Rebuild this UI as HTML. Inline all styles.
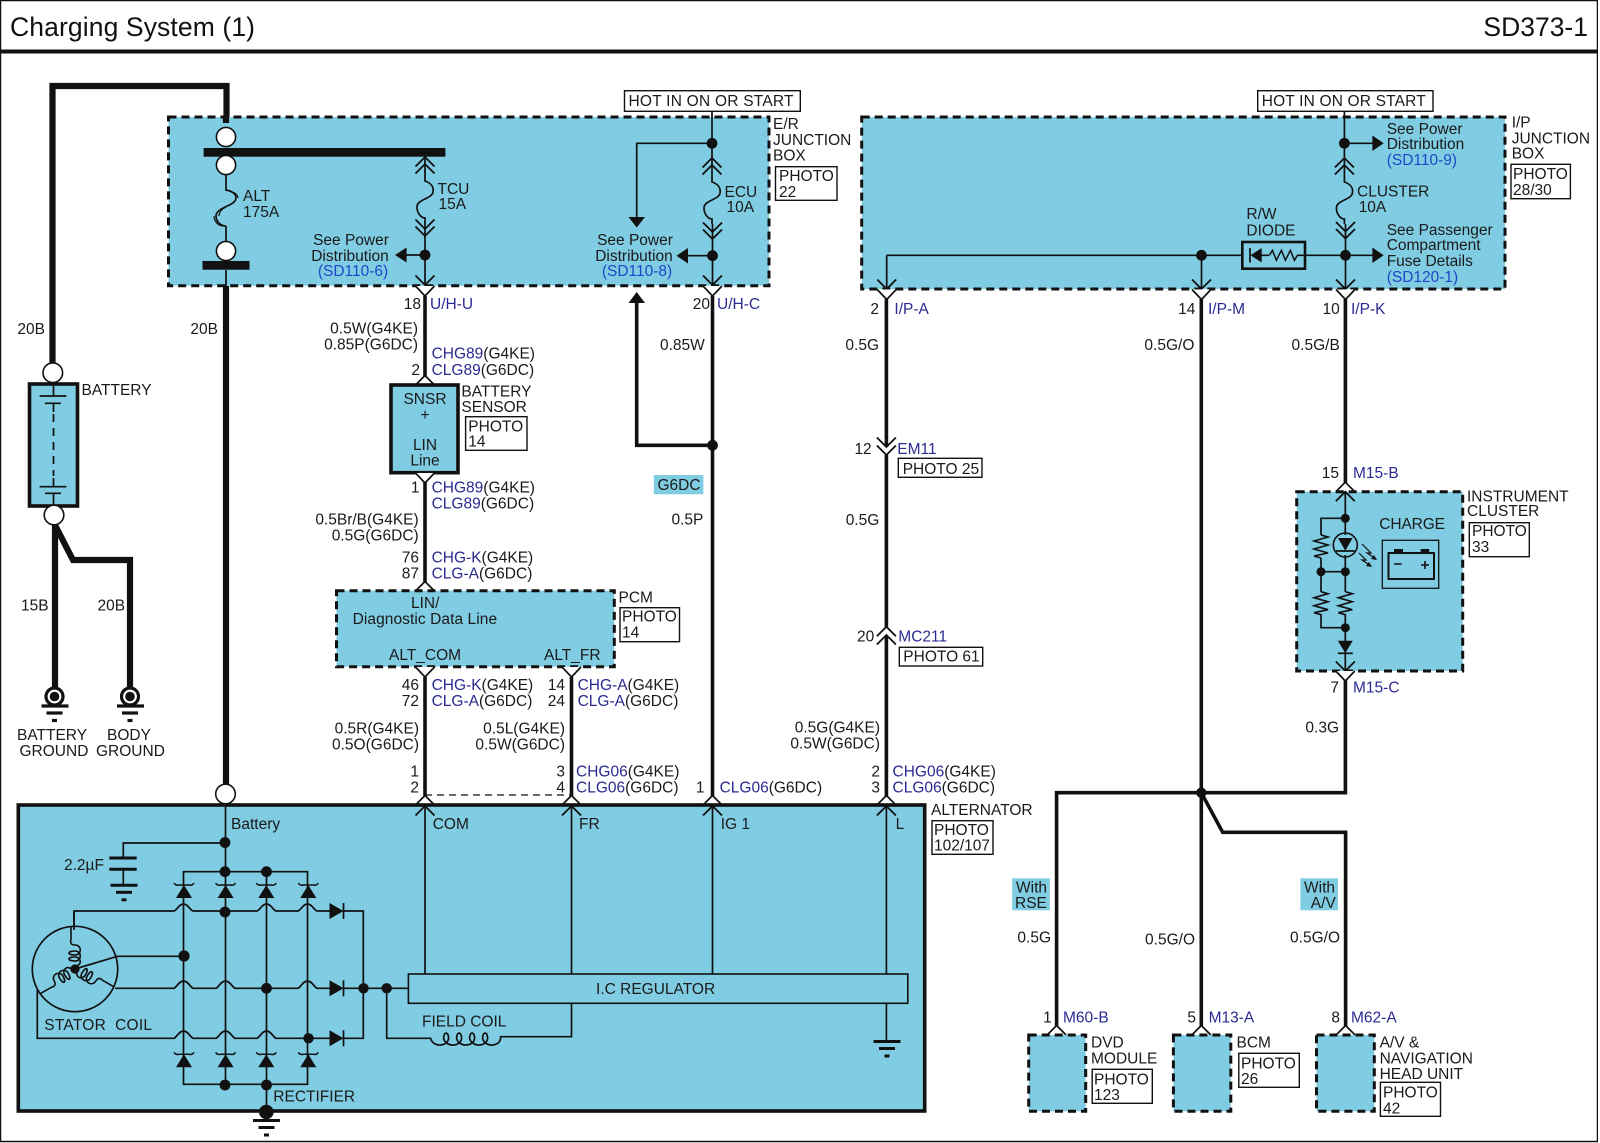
<!DOCTYPE html>
<html><head><meta charset="utf-8"><title>Charging System (1)</title>
<style>
html,body{margin:0;padding:0;background:#fff}
svg{display:block}
text{font-family:"Liberation Sans",sans-serif;font-size:15.5px;fill:#1a1a1a;white-space:pre}
.e{text-anchor:end}.m{text-anchor:middle}
.n{fill:#2a2a92}.u{fill:#1f48c8}
.title{font-size:26.5px;fill:#111}
.w{fill:none;stroke:#111;stroke-width:1.7}
.h{fill:none;stroke:#111;stroke-width:3.6}
.k{fill:none;stroke:#111;stroke-width:6.2}
.box{fill:#80cce2;stroke:#111;stroke-width:3;stroke-dasharray:8 5}
.solid{fill:#80cce2;stroke:#111;stroke-width:3.6}
.ph{fill:#fff;stroke:#111;stroke-width:1.4}
.d{fill:#111}
.c{fill:#fff;stroke:#111;stroke-width:1.6}
</style></head><body>
<svg xmlns="http://www.w3.org/2000/svg" width="1600" height="1143" viewBox="0 0 1600 1143">
<defs>
<path id="cd" d="M-9.5 -9.5L0 0L9.5 -9.5" fill="none" stroke="#111" stroke-width="1.8"/>
<path id="cu" d="M-9.5 9.5L0 0L9.5 9.5" fill="none" stroke="#111" stroke-width="1.8"/>
<path id="vd" d="M-9.5 0L0 10L9.5 0" fill="#fff" stroke="#111" stroke-width="1.7"/>
<path id="vu" d="M-9.5 0L0 -9.5L9.5 0" fill="#fff" stroke="#111" stroke-width="1.7"/>
<g id="dup"><use href="#cu"/><use href="#cu" y="7"/></g>
<g id="ddn"><use href="#cd"/><use href="#cd" y="-7"/></g>
<path id="fuse" d="M0 -1V9C6 11 9 15 8 20C7 27 -8 27 -8 35C-8 41 -4 46 0 46V51" fill="none" stroke="#111" stroke-width="1.7"/>
<g id="dr"><path d="M-7 -8L7 0L-7 8Z" fill="#111"/><path d="M7 -8V8" stroke="#111" stroke-width="1.7"/></g>
<g id="zu"><path d="M-8 13L0 0L8 13Z" fill="#111"/><path d="M-10 -2Q-8 1 -5 0H5Q8 1 10 -2" fill="none" stroke="#111" stroke-width="1.5"/></g>
<g id="gnd"><path d="M-13.5 0H13.5" stroke="#111" stroke-width="3"/><path d="M-8 7H8" stroke="#111" stroke-width="3"/><path d="M-2.5 14.5H2.5" stroke="#111" stroke-width="3"/></g>
<path id="res" d="M0 0L7 2L-7 6L7 10L-7 14L7 18L-7 21L0 23" fill="none" stroke="#111" stroke-width="1.6"/>
<path id="coil" d="M0 0V3c-7 0-7 9 0 9c8 0 8-4 0-4c-7 0-7 10 0 10c8 0 8-4 0-4c-7 0-7 10 0 10c4 0 5 2 4 6V42" fill="none" stroke="#111" stroke-width="1.6"/>
<g id="eg"><circle r="8.5" fill="#fff" stroke="#111" stroke-width="3.2"/><circle r="4.8" fill="#111"/><path d="M-13 9.5H14" stroke="#111" stroke-width="3.2"/><path d="M-8 16.5H8" stroke="#111" stroke-width="3.2"/><path d="M-2.5 24H2.5" stroke="#111" stroke-width="3.2"/></g>
</defs>

<!-- frame -->
<rect x="0.5" y="0.5" width="1597" height="1141" fill="#fff" stroke="#111" stroke-width="1.5"/>
<rect x="0" y="49.5" width="1600" height="4" fill="#111"/>
<rect x="1598" y="0" width="2" height="1143" fill="#fff"/>
<text class="title" x="10" y="36" textLength="245">Charging System (1)</text>
<text class="title e" x="1588" y="36">SD373-1</text>

<!-- battery thick wires -->
<path class="k" d="M226.5 118V86H52.5V363"/>
<rect x="29.5" y="384" width="48" height="122" class="solid"/>
<path class="w" d="M53.5 384V396M53.5 403V412M53.5 486V478M53.5 493V506"/>
<path class="w" d="M53.5 414V476" stroke-dasharray="8 6"/>
<path d="M39.6 396H66.4M45 403.3H61M39.6 486.7H66.4M45 493.3H61" stroke="#111" stroke-width="1.7"/>
<circle cx="52.8" cy="372.7" r="9.8" class="c"/>
<path class="k" d="M55 525V688"/>
<path class="k" d="M55 525L73 560H130V688"/>
<circle cx="54" cy="515" r="9.8" class="c"/>
<use href="#eg" x="54.5" y="696.5"/><use href="#eg" x="130" y="696.5"/>
<text class="e" x="45" y="334">20B</text><text class="e" x="218" y="334">20B</text>
<text x="81.5" y="395">BATTERY</text>
<text x="21" y="610.7">15B</text><text x="97.5" y="610.7">20B</text>
<text x="17" y="740">BATTERY</text><text x="19.5" y="756">GROUND</text>
<text x="107" y="740">BODY</text><text x="96" y="756">GROUND</text>

<!-- E/R junction box -->
<rect x="168.5" y="117" width="600.5" height="168.7" class="box"/>
<path class="k" d="M226 117V123M226 286V784"/>
<path class="w" d="M226 175V191M226 226V242M226 270V286"/>
<rect x="203.6" y="148" width="241.8" height="8.7" class="d"/>
<circle cx="226" cy="137" r="9.6" class="c"/><circle cx="226" cy="165" r="9.6" class="c"/><circle cx="226" cy="251" r="9.6" class="c"/>
<rect x="202.5" y="261" width="47" height="8.7" class="d"/>
<path class="w" d="M226 190C232 191 236 194 236 198C236 206 216 207 216 216C216 222 221 226 226 226"/>
<path d="M229 191C233 192 238 194 238 198M214 216C214 221 218 226 223 226M219 216C219 212 222 209 226 207" fill="none" stroke="#111" stroke-width="1.2"/>
<text x="243" y="201">ALT</text><text x="243" y="217">175A</text>

<path class="w" d="M425 157V172"/>
<use href="#dup" x="425" y="157"/>
<use href="#fuse" x="425" y="172"/>
<use href="#ddn" x="425" y="236"/>
<path class="w" d="M425 222V285M397 255H425"/>
<circle cx="425" cy="255" r="5.4" class="d"/>
<path class="d" d="M395 255L406.6 247.5V262.5Z"/>
<use href="#cd" x="425" y="285"/><use href="#vd" x="425" y="286"/>
<text x="437.5" y="194">TCU</text><text x="438.5" y="209">15A</text>
<text class="m" x="351" y="245">See Power</text><text class="m" x="350" y="261">Distribution</text><text class="m u" x="353" y="276">(SD110-6)</text>

<rect x="624.5" y="90.7" width="175.8" height="20.6" class="ph"/>
<text x="628.5" y="106" textLength="165">HOT IN ON OR START</text>
<path class="w" d="M712 111V173"/>
<circle cx="712" cy="143.3" r="5.4" class="d"/>
<path class="w" d="M712 143.3H636.7V220"/>
<path class="d" d="M636.7 227.5L628.5 217H645Z"/>
<use href="#dup" x="712" y="158"/>
<use href="#fuse" x="712" y="173"/>
<use href="#ddn" x="712.5" y="239"/>
<path class="w" d="M712.5 224V285M678 255.7H712.5"/>
<circle cx="712.5" cy="255.7" r="5.4" class="d"/>
<path class="d" d="M676.5 255.7L688 248V263.5Z"/>
<use href="#cd" x="712.5" y="285"/><use href="#vd" x="712.5" y="286"/>
<text x="724.5" y="197">ECU</text><text x="726.5" y="212">10A</text>
<text class="m" x="635" y="245">See Power</text><text class="m" x="634" y="261">Distribution</text><text class="m u" x="637" y="276">(SD110-8)</text>
<text x="773" y="129">E/R</text><text x="773" y="145">JUNCTION</text><text x="773" y="160.7">BOX</text>
<rect x="775.5" y="166.7" width="61.5" height="33.6" class="ph"/>
<text x="779" y="181">PHOTO</text><text x="779" y="197">22</text>

<!-- ECU wire and branch -->
<path class="h" d="M636.7 303V445.3H712.5"/>
<path class="d" d="M636.7 292L628.5 303H645Z"/>
<path class="h" d="M712.5 296V805"/>
<circle cx="712.5" cy="445.3" r="5.4" class="d"/>
<text class="e" x="710" y="309">20</text><text class="n" x="717" y="309">U/H-C</text>
<text x="660" y="350">0.85W</text>
<rect x="653.8" y="475" width="49.6" height="19.3" fill="#80cce2"/>
<text x="657.5" y="490">G6DC</text>
<text class="e" x="703.4" y="524.3">0.5P</text>

<!-- TCU wire -->
<path class="h" d="M425 296V377M425 481V582M425 677V805M571.5 677V805"/>
<text class="e" x="421" y="309">18</text><text class="n" x="430" y="309">U/H-U</text>
<text class="e" x="418" y="333.7">0.5W(G4KE)</text><text class="e" x="418" y="349.7">0.85P(G6DC)</text>
<text x="431.6" y="358.7"><tspan class="n">CHG89</tspan>(G4KE)</text>
<text x="431.6" y="375"><tspan class="n">CLG89</tspan>(G6DC)</text>
<text class="e" x="420" y="375">2</text>
<use href="#vu" x="425" y="385"/>
<rect x="391" y="385" width="67" height="87.7" class="solid" stroke-width="3"/>
<text class="m" x="425" y="404">SNSR</text><text class="m" x="425" y="420">+</text><text class="m" x="425" y="450">LIN</text><text class="m" x="425" y="465.7">Line</text>
<text x="461.4" y="396.7">BATTERY</text><text x="461.4" y="412">SENSOR</text>
<rect x="465.6" y="416.7" width="61.4" height="33.6" class="ph"/>
<text x="468.3" y="431.7">PHOTO</text><text x="468.3" y="446.7">14</text>
<use href="#vd" x="425" y="473"/>
<text class="e" x="419.5" y="492.7">1</text>
<text x="431.6" y="492.7"><tspan class="n">CHG89</tspan>(G4KE)</text>
<text x="431.6" y="508.7"><tspan class="n">CLG89</tspan>(G6DC)</text>
<text class="e" x="418.7" y="524.7">0.5Br/B(G4KE)</text><text class="e" x="418.7" y="540.7">0.5G(G6DC)</text>
<text class="e" x="419" y="562.7">76</text><text class="e" x="419" y="578.7">87</text>
<text x="431.6" y="562.7"><tspan class="n">CHG-K</tspan>(G4KE)</text>
<text x="431.6" y="578.7"><tspan class="n">CLG-A</tspan>(G6DC)</text>
<use href="#vu" x="425" y="591"/>

<!-- PCM -->
<rect x="336.5" y="590.7" width="277.8" height="76" class="box"/>
<text x="411" y="608">LIN/</text><text x="352.6" y="624" textLength="144.5">Diagnostic Data Line</text>
<text x="389" y="660">ALT_COM</text><text x="544" y="660">ALT_FR</text>
<text x="618.5" y="602.7">PCM</text>
<rect x="620" y="607.7" width="59.5" height="34" class="ph"/>
<text x="622" y="621.7">PHOTO</text><text x="622" y="637.7">14</text>
<use href="#vd" x="425" y="667"/><use href="#vd" x="571.5" y="667"/>
<text class="e" x="419" y="690">46</text><text class="e" x="419" y="706">72</text>
<text x="431.6" y="690"><tspan class="n">CHG-K</tspan>(G4KE)</text>
<text x="431.6" y="706"><tspan class="n">CLG-A</tspan>(G6DC)</text>
<text class="e" x="565" y="690">14</text><text class="e" x="565" y="706">24</text>
<text x="577.6" y="690"><tspan class="n">CHG-A</tspan>(G4KE)</text>
<text x="577.6" y="706"><tspan class="n">CLG-A</tspan>(G6DC)</text>
<text class="e" x="419" y="733.3">0.5R(G4KE)</text><text class="e" x="419" y="749.3">0.5O(G6DC)</text>
<text class="e" x="565" y="733.3">0.5L(G4KE)</text><text class="e" x="565" y="749.3">0.5W(G6DC)</text>
<text class="e" x="419" y="776.7">1</text><text class="e" x="419" y="792.7">2</text>
<text class="e" x="565" y="776.7">3</text><text class="e" x="565" y="792.7">4</text>
<text x="576" y="776.7"><tspan class="n">CHG06</tspan>(G4KE)</text>
<text x="576" y="792.7"><tspan class="n">CLG06</tspan>(G6DC)</text>
<text class="e" x="704.5" y="792.7">1</text>
<text x="719.6" y="792.7"><tspan class="n">CLG06</tspan>(G6DC)</text>
<path d="M425 795H571" fill="none" stroke="#111" stroke-width="1.3" stroke-dasharray="7 5"/>
<text class="e" x="880" y="776.7">2</text><text class="e" x="880" y="792.7">3</text>
<text x="892.5" y="776.7"><tspan class="n">CHG06</tspan>(G4KE)</text>
<text x="892.5" y="792.7"><tspan class="n">CLG06</tspan>(G6DC)</text>

<!-- EM / MC wire -->
<path class="h" d="M886.4 299V447M886.4 455V627M886.4 636V805"/>
<use href="#cd" x="886.4" y="447"/><use href="#cd" x="886.4" y="455"/>
<use href="#cu" x="886.4" y="626.7"/><use href="#cu" x="886.4" y="635"/>
<text class="e" x="879" y="350">0.5G</text>
<text class="e" x="871.7" y="454">12</text><text class="n" x="897.3" y="454">EM11</text>
<rect x="898.3" y="458.3" width="83.7" height="19" class="ph"/>
<text x="902.7" y="474">PHOTO 25</text>
<text class="e" x="879.3" y="525">0.5G</text>
<text class="e" x="874.3" y="641.7">20</text><text class="n" x="898.3" y="641.7">MC211</text>
<rect x="899.3" y="647.3" width="83.4" height="18.7" class="ph"/>
<text x="903.3" y="661.7">PHOTO 61</text>
<text class="e" x="880" y="732.5">0.5G(G4KE)</text><text class="e" x="880" y="748.5">0.5W(G6DC)</text>

<!-- I/P junction box -->
<rect x="861.7" y="117" width="643.3" height="172" class="box"/>
<rect x="1257.7" y="90.7" width="175.3" height="20.6" class="ph"/>
<text x="1261.7" y="106" textLength="164">HOT IN ON OR START</text>
<path class="w" d="M1344.4 111V173"/>
<circle cx="1344.4" cy="143.3" r="5.4" class="d"/>
<path class="w" d="M1344.4 143.3H1374"/>
<path class="d" d="M1383.7 143.3L1372.4 135.5V151Z"/>
<use href="#dup" x="1344.4" y="158"/>
<use href="#fuse" x="1344.4" y="173"/>
<use href="#ddn" x="1345.5" y="238.5"/>
<path class="w" d="M886.7 255.3H1242M1305 255.3H1374M886.7 255.3V289M1201.5 255.3V289M1345.5 224V289"/>
<circle cx="1201.5" cy="255.3" r="5.4" class="d"/><circle cx="1345.5" cy="255.3" r="5.4" class="d"/>
<path class="d" d="M1383.7 255.3L1372.4 247.5V263Z"/>
<rect x="1242.3" y="242" width="62.7" height="26.7" fill="none" stroke="#111" stroke-width="2.6"/>
<path class="d" d="M1250.5 255.3L1261.7 248V262.5Z"/>
<path class="w" d="M1250 248V262.5M1261 255.3H1269M1297 255.3H1305"/>
<path d="M1269.4 255.3l3-5l4 10l5-10l4 10l5-10l4 10l3-5" fill="none" stroke="#111" stroke-width="1.5"/>
<use href="#cd" x="886.7" y="289"/><use href="#cd" x="1201.5" y="289"/><use href="#cd" x="1345.5" y="289"/>
<use href="#vd" x="886.7" y="289.5"/><use href="#vd" x="1201.5" y="289.5"/><use href="#vd" x="1345.5" y="289.5"/>
<text x="1386.7" y="134">See Power</text><text x="1386.7" y="149">Distribution</text><text class="u" x="1386.7" y="165">(SD110-9)</text>
<text x="1357" y="196.7">CLUSTER</text><text x="1358.7" y="212">10A</text>
<text x="1246.4" y="219">R/W</text><text x="1246.4" y="235.7">DIODE</text>
<text x="1386.7" y="235">See Passenger</text><text x="1386.7" y="250">Compartment</text><text x="1386.7" y="266">Fuse Details</text><text class="u" x="1386.7" y="282">(SD120-1)</text>
<text x="1511.7" y="127.3">I/P</text><text x="1511.7" y="143.3">JUNCTION</text><text x="1511.7" y="158.7">BOX</text>
<rect x="1511" y="164.3" width="59.4" height="34.4" class="ph"/>
<text x="1513" y="179">PHOTO</text><text x="1513" y="195">28/30</text>
<text class="e" x="879" y="314">2</text><text class="n" x="894.4" y="314">I/P-A</text>
<text class="e" x="1195.4" y="314">14</text><text class="n" x="1208" y="314">I/P-M</text>
<text class="e" x="1339.8" y="314">10</text><text class="n" x="1351" y="314">I/P-K</text>
<text class="e" x="1194.4" y="350">0.5G/O</text><text class="e" x="1339.8" y="350">0.5G/B</text>

<!-- wires right -->
<path class="h" d="M1201.3 299V1026M1345.4 299V483M1345.4 680V792.7H1056.6V1026M1201.3 792.7L1222.7 832.3H1345.6V1026"/>
<circle cx="1201.3" cy="792.7" r="5.2" class="d"/>
<text class="e" x="1339" y="478">15</text><text class="n" x="1353" y="478">M15-B</text>
<use href="#vu" x="1345.3" y="491.7"/>

<!-- cluster -->
<rect x="1296.7" y="491.7" width="166" height="179.3" class="box"/>
<use href="#cu" x="1345.3" y="491.7"/>
<path class="w" d="M1345.3 492V535M1345.3 555V592M1345.3 614V671M1345.3 518.3H1321V535M1321 558V592M1321 571.7H1345.3M1321 614V627.7H1345.3"/>
<circle cx="1345.3" cy="518.3" r="4.5" class="d"/>
<circle cx="1345.3" cy="545" r="12" fill="none" stroke="#111" stroke-width="1.6"/>
<path class="d" d="M1338 538H1352.6L1345.3 550.7Z"/>
<path class="w" d="M1336 551H1354.6"/>
<use href="#res" x="1321" y="535"/>
<use href="#res" x="1321" y="591.7"/><use href="#res" x="1345.3" y="591.7"/>
<circle cx="1321" cy="571.7" r="4.5" class="d"/><circle cx="1345.3" cy="571.7" r="4.5" class="d"/><circle cx="1345.3" cy="627.7" r="4.5" class="d"/>
<path class="d" d="M1337.8 640.7H1352.8L1345.3 653Z"/>
<path class="w" d="M1337.8 653.3H1352.8"/>
<path d="M1362 544L1371 553L1367 553L1376 559M1359 553L1366 560L1362 560L1371 566" fill="none" stroke="#111" stroke-width="1.2"/>
<path class="d" d="M1377 560L1371 559L1374 555ZM1372 567L1366 566L1369 562Z"/>
<use href="#cd" x="1345.3" y="671"/><use href="#vd" x="1345.3" y="671"/>
<text x="1379.3" y="529" textLength="65.7">CHARGE</text>
<rect x="1382.3" y="540.3" width="56.4" height="48" fill="none" stroke="#111" stroke-width="1.3"/>
<rect x="1388.5" y="553" width="45.5" height="26" fill="none" stroke="#111" stroke-width="2"/>
<rect x="1394" y="549" width="9" height="4" class="d"/><rect x="1420.7" y="549" width="8.5" height="4" class="d"/>
<path d="M1394 564H1401.7M1421 565H1429M1425 561V569" stroke="#111" stroke-width="1.6"/>
<text x="1467" y="501.7">INSTRUMENT</text><text x="1467" y="516">CLUSTER</text>
<rect x="1469.3" y="522.7" width="60" height="34" class="ph"/>
<text x="1472" y="536">PHOTO</text><text x="1472" y="552">33</text>
<text class="e" x="1339" y="692.7">7</text><text class="n" x="1353" y="692.7">M15-C</text>
<text class="e" x="1339" y="732.5">0.3G</text>

<!-- alternator -->
<circle cx="225.5" cy="794" r="9.8" class="c"/>
<use href="#vu" x="425" y="805"/><use href="#vu" x="571.5" y="805"/><use href="#vu" x="712.5" y="805"/><use href="#vu" x="886.4" y="805"/>
<rect x="18.3" y="805" width="906.4" height="306" class="solid"/>
<use href="#cu" x="425" y="806"/><use href="#cu" x="571.5" y="806"/><use href="#cu" x="712.5" y="806"/><use href="#cu" x="886.4" y="806"/>
<path class="w" d="M425 806V974M571.5 806V974M712.5 806V974M886.4 806V974"/>
<rect x="408.4" y="974" width="499.4" height="29.3" fill="#80cce2" stroke="#111" stroke-width="1.6"/>
<text class="m" x="655.6" y="994">I.C REGULATOR</text>
<text x="432.7" y="829">COM</text><text x="579" y="829">FR</text><text x="720.7" y="829">IG 1</text><text x="895.6" y="829">L</text>
<text x="231" y="829">Battery</text>
<text x="931" y="815">ALTERNATOR</text>
<rect x="932" y="820.7" width="61" height="33.6" class="ph"/>
<text x="934" y="835">PHOTO</text><text x="934" y="850.7">102/107</text>
<text x="422" y="1026.7">FIELD COIL</text>
<text x="64" y="870">2.2µF</text>
<text x="44.3" y="1030" textLength="107.7">STATOR  COIL</text>
<text x="273.3" y="1101.7">RECTIFIER</text>

<path class="w" d="M886.4 1003.3V1041"/><use href="#gnd" x="887" y="1041.5"/>
<path class="w" d="M386.7 988.3V1038.3H430.6c2 9 17 9 18 0c0-7-5-7-5 0c2 9 17 9 18 0c0-7-5-7-5 0c2 9 17 9 18 0c0-7-5-7-5 0c2 9 17 9 18 0c0-7-5-7-5 0c2 9 17 9 18 0V1036.7H571.5V1003.3"/>

<!-- rectifier -->
<path class="w" d="M225.5 805V1085M225.5 843H123.3V858M183.5 871.7H307.5V1084.3H183.5Z M266.5 871.7V1084.3M123.3 869V885M266.5 1084.3V1112"/>
<path d="M109.3 858H136.7M109.3 869.3H136.7" stroke="#111" stroke-width="3"/>
<use href="#gnd" x="124" y="885.3"/>
<!-- rows with jumps -->
<path id="r1" class="w" fill="none" d="M74 926V911H174C177 910 179 904 183.5 904C188 904 190 910 193 911H257C260 910 262 904 266.5 904C271 904 273 910 276 911H298C301 910 303 904 307.5 904C312 904 314 910 317 911H330M343.5 911H363.3V1038.3H343.5"/>
<path class="w" d="M115 988.3H174C177 987 179 981 183.5 981C188 981 190 987 193 988.3H216C219 987 221 981 225.5 981C230 981 232 987 235 988.3H298C301 987 303 981 307.5 981C312 981 314 987 317 988.3H330M343.5 988.3H408.4"/>
<path class="w" d="M37.3 990V1038.3H174C177 1037 179 1031 183.5 1031C188 1031 190 1037 193 1038.3H216C219 1037 221 1031 225.5 1031C230 1031 232 1037 235 1038.3H257C260 1037 262 1031 266.5 1031C271 1031 273 1037 276 1038.3H330"/>
<use href="#dr" x="336.5" y="911"/><use href="#dr" x="336.5" y="988.3"/><use href="#dr" x="336.5" y="1038.3"/>
<use href="#zu" x="184" y="885"/><use href="#zu" x="225.6" y="885"/><use href="#zu" x="266.3" y="885"/><use href="#zu" x="308.3" y="885"/>
<use href="#zu" x="184" y="1054.3"/><use href="#zu" x="225.6" y="1054.3"/><use href="#zu" x="266.3" y="1054.3"/><use href="#zu" x="308.3" y="1054.3"/>
<g class="d">
<circle cx="225" cy="842.5" r="5.4"/><circle cx="225" cy="871.7" r="5.4"/><circle cx="266.5" cy="871.7" r="5.4"/>
<circle cx="225" cy="912" r="5.4"/><circle cx="184" cy="956" r="5.6"/><circle cx="266.5" cy="988.3" r="5.4"/>
<circle cx="363.5" cy="988.3" r="5.2"/><circle cx="386.7" cy="988.3" r="5.2"/><circle cx="308.5" cy="1038.3" r="5.2"/>
<circle cx="225" cy="1085" r="5.4"/><circle cx="266.5" cy="1085" r="5.4"/><circle cx="266.3" cy="1112" r="7.3"/>
</g>
<use href="#gnd" x="266.5" y="1120.5"/>
<!-- stator -->
<circle cx="75" cy="969" r="42.7" fill="none" stroke="#111" stroke-width="1.7"/>
<path class="w" d="M74 911V930M75 969L117.3 956.3H184"/>
<use href="#coil" transform="translate(75 969) rotate(180)"/>
<use href="#coil" transform="translate(75 969) rotate(60)"/>
<use href="#coil" transform="translate(75 969) rotate(-60)"/>
<circle cx="75" cy="969" r="4.6" class="d"/>

<!-- bottom devices -->
<rect x="1012.2" y="878.3" width="37.6" height="32" fill="#80cce2"/>
<text x="1016" y="892.3">With</text><text x="1015" y="908">RSE</text>
<rect x="1300.4" y="878.3" width="37.6" height="32" fill="#80cce2"/>
<text x="1304" y="892.3">With</text><text x="1310.8" y="908">A/V</text>
<text class="e" x="1051" y="942.3">0.5G</text><text class="e" x="1195" y="944.3">0.5G/O</text><text class="e" x="1340" y="942.3">0.5G/O</text>
<text class="e" x="1051.7" y="1022.7">1</text><text class="n" x="1063" y="1022.7">M60-B</text>
<text class="e" x="1196" y="1022.7">5</text><text class="n" x="1208.6" y="1022.7">M13-A</text>
<text class="e" x="1340" y="1022.7">8</text><text class="n" x="1351" y="1022.7">M62-A</text>
<use href="#vu" x="1056.6" y="1035"/><use href="#vu" x="1201.3" y="1035"/><use href="#vu" x="1345.6" y="1035"/>
<rect x="1028.7" y="1035" width="57" height="76.3" class="box"/>
<rect x="1173.4" y="1035" width="57.4" height="76.3" class="box"/>
<rect x="1316.5" y="1035" width="57.8" height="76.3" class="box"/>
<text x="1091" y="1047.7">DVD</text><text x="1091" y="1063.3">MODULE</text>
<rect x="1092.2" y="1069.3" width="60.1" height="34" class="ph"/>
<text x="1094" y="1084.3">PHOTO</text><text x="1094" y="1100">123</text>
<text x="1236.5" y="1047.7">BCM</text>
<rect x="1238.8" y="1053.3" width="60.5" height="34" class="ph"/>
<text x="1241" y="1068.3">PHOTO</text><text x="1241" y="1084">26</text>
<text x="1379.6" y="1047.7">A/V &amp;</text><text x="1379.6" y="1063.3">NAVIGATION</text><text x="1379.6" y="1079">HEAD UNIT</text>
<rect x="1380.4" y="1082.3" width="60.1" height="34" class="ph"/>
<text x="1383" y="1097.7">PHOTO</text><text x="1383" y="1113.3">42</text>
</svg>
</body></html>
